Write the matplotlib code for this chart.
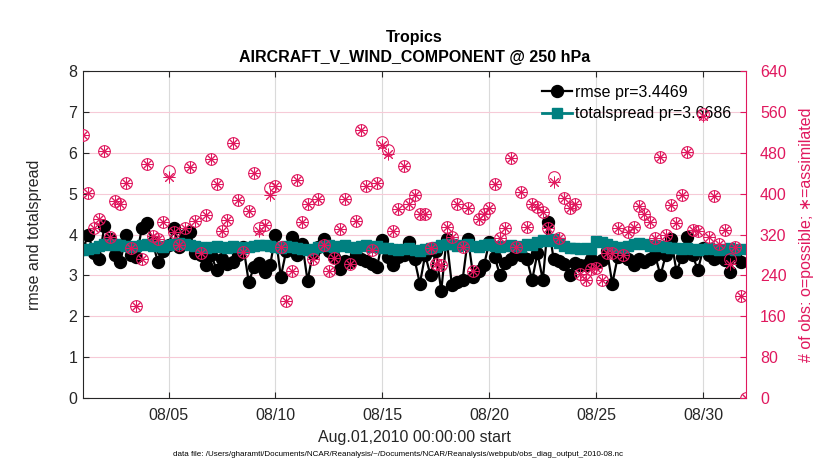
import numpy as np
import pandas as pd
import matplotlib
matplotlib.use("Agg")
import matplotlib.pyplot as plt
import matplotlib.dates as mdates

plt.rcParams['font.family'] = ['Liberation Sans', 'DejaVu Sans']

# 6-hourly analysis times, Aug 1 00Z .. Sep 1 00Z
times = pd.date_range('2010-08-01 00:00', periods=125, freq='6h')

rmse = [3.65, 4.00, 3.55, 3.40, 4.20, 3.90, 3.50, 3.33, 3.98, 3.50,
        3.45, 4.15, 4.27, 3.82, 3.33, 3.60, 3.75, 4.15, 3.70, 3.98,
        4.06, 3.54, 3.50, 3.25, 3.50, 3.13, 3.41, 3.29, 3.33, 3.50,
        3.70, 2.84, 3.21, 3.30, 3.09, 3.25, 3.98, 2.97, 3.60, 3.94,
        3.50, 3.78, 2.87, 3.55, 3.70, 3.90, 3.60, 3.45, 3.17, 3.35,
        3.33, 3.50, 3.41, 3.35, 3.29, 3.21, 3.86, 3.45, 3.25, 3.45,
        3.50, 3.82, 3.40, 2.80, 3.50, 3.00, 3.60, 2.62, 3.90, 2.76,
        2.84, 2.90, 3.90, 2.97, 3.10, 3.25, 3.82, 3.45, 3.00, 3.30,
        3.41, 3.58, 3.50, 3.41, 2.89, 3.55, 2.89, 4.31, 3.41, 3.35,
        3.29, 3.00, 3.30, 3.25, 3.25, 3.41, 3.30, 3.37, 3.60, 2.80,
        3.45, 3.50, 3.40, 3.25, 3.41, 3.33, 3.41, 3.50, 3.00, 3.50,
        3.90, 3.09, 3.45, 3.94, 3.50, 3.13, 3.66, 3.50, 3.41, 3.45,
        3.37, 3.09, 3.50, 3.33, np.nan]

totalspread = [3.62, 3.64, 3.68, 3.72, 3.76, 3.74, 3.78, 3.75, 3.72, 3.70,
               3.72, 3.74, 3.76, 3.73, 3.72, 3.70, 3.74, 3.78, 3.80, 3.78,
               3.75, 3.72, 3.70, 3.68, 3.70, 3.72, 3.70, 3.68, 3.72, 3.70,
               3.68, 3.70, 3.72, 3.75, 3.74, 3.72, 3.70, 3.68, 3.72, 3.70,
               3.66, 3.64, 3.62, 3.65, 3.70, 3.72, 3.74, 3.70, 3.72, 3.74,
               3.70, 3.68, 3.72, 3.74, 3.70, 3.72, 3.68, 3.66, 3.65, 3.62,
               3.64, 3.66, 3.62, 3.60, 3.64, 3.66, 3.70, 3.74, 3.78, 3.76,
               3.72, 3.74, 3.76, 3.72, 3.70, 3.74, 3.76, 3.72, 3.70, 3.72,
               3.74, 3.72, 3.70, 3.76, 3.74, 3.82, 3.86, 3.84, 3.88, 3.80,
               3.72, 3.68, 3.66, 3.64, 3.66, 3.65, 3.84, 3.82, 3.78, 3.72,
               3.70, 3.68, 3.72, 3.78, 3.80, 3.76, 3.72, 3.74, 3.72, 3.70,
               3.68, 3.66, 3.64, 3.66, 3.64, 3.62, 3.64, 3.66, 3.64, 3.62,
               3.64, 3.66, 3.62, 3.64, np.nan]

nposs = [515, 401, 332, 350, 484, 315, 385, 380, 421, 293,
         181, 273, 457, 317, 311, 345, 445, 325, 299, 332,
         452, 346, 283, 358, 468, 419, 326, 348, 499, 388,
         286, 365, 441, 333, 338, 410, 415, 296, 190, 248,
         426, 345, 380, 273, 389, 300, 248, 275, 330, 390,
         263, 346, 525, 414, 289, 421, 501, 486, 327, 369,
         453, 380, 397, 361, 361, 294, 263, 260, 335, 315,
         380, 296, 372, 248, 351, 361, 371, 418, 313, 332,
         469, 296, 404, 334, 379, 374, 364, 333, 432, 313,
         391, 372, 379, 242, 231, 252, 255, 231, 283, 284,
         332, 280, 325, 334, 376, 361, 345, 313, 471, 319,
         377, 343, 397, 481, 328, 326, 556, 315, 395, 302,
         328, 272, 296, 200, 0]

nused = [515, 401, 332, 350, 484, 315, 385, 380, 421, 293,
         181, 273, 457, 317, 311, 345, 432, 325, 299, 332,
         452, 346, 283, 358, 468, 419, 326, 348, 499, 388,
         286, 365, 441, 326, 338, 397, 415, 296, 190, 248,
         426, 345, 380, 273, 389, 300, 248, 275, 330, 390,
         263, 346, 525, 414, 289, 421, 494, 478, 327, 369,
         453, 380, 397, 361, 361, 294, 263, 260, 335, 315,
         380, 296, 372, 248, 351, 361, 371, 418, 313, 332,
         469, 296, 404, 334, 379, 374, 364, 333, 423, 313,
         391, 372, 379, 242, 231, 252, 255, 231, 283, 284,
         332, 280, 325, 334, 376, 361, 345, 313, 471, 319,
         377, 343, 397, 481, 328, 326, 552, 315, 395, 302,
         328, 263, 296, 200, 0]

xtick_days = ['2010-08-05', '2010-08-10', '2010-08-15', '2010-08-20', '2010-08-25', '2010-08-30']

crimson = '#E0185E'
teal = '#008080'
dark = '#262626'

fig = plt.figure(figsize=(8.3, 4.7), dpi=100)
ax = fig.add_axes([0.1, 0.1525, 0.7988, 0.697])
ax2 = ax.twinx()

l1, = ax.plot(times, rmse, '-o', color='black', lw=1.6, ms=8.6, mfc='black', mec='black',
              label='rmse pr=3.4469')
l2, = ax.plot(times, totalspread, '-s', color=teal, lw=2, ms=7.8, mfc=teal, mec=teal,
              label='totalspread pr=3.6686')

ax2.plot(times, nposs, 'o', ls='none', ms=8.4, mfc='none', mec=crimson, mew=0.8)
ax2.plot(times, nused, marker=(8, 2, 0), ls='none', ms=8.4, mec=crimson, mew=0.7)

ax.set_xlim(times[0], times[-1])
ax.set_ylim(0, 8)
ax.set_yticks(range(0, 9))
ax2.set_ylim(0, 640)
ax2.set_yticks(range(0, 641, 80))

ax.set_xticks(pd.to_datetime(xtick_days))
ax.xaxis.set_major_formatter(mdates.DateFormatter('%m/%d'))

ax.set_axisbelow(True)
ax.grid(axis='x', color='#DADADA', lw=0.8)
ax.grid(axis='y', color='#F6CAD7', lw=0.8)

ax.tick_params(axis='both', direction='in', length=4.5, width=0.8, colors=dark,
               labelsize=11.5, top=True, right=False)
ax.tick_params(axis='x', pad=7)
ax.tick_params(axis='y', pad=4)
ax2.tick_params(axis='y', direction='in', length=4.5, width=0.8, colors=crimson,
                labelsize=11.5, pad=10)

for s in ['left', 'bottom', 'top']:
    ax.spines[s].set_color(dark)
    ax.spines[s].set_linewidth(0.8)
ax.spines['right'].set_visible(False)
ax2.spines['left'].set_visible(False)
ax2.spines['top'].set_visible(False)
ax2.spines['bottom'].set_visible(False)
ax2.spines['right'].set_color(crimson)
ax2.spines['right'].set_linewidth(0.8)

ax.set_title('Tropics\nAIRCRAFT_V_WIND_COMPONENT @ 250 hPa', fontsize=11.5,
             fontweight='bold', pad=6, linespacing=1.45)
ax.set_ylabel('rmse and totalspread', fontsize=11.5, color=dark, labelpad=19)
ax2.set_ylabel('# of obs: o=possible; \u2217=assimilated', fontsize=11.5, color=crimson,
               labelpad=9)
ax.set_xlabel('Aug.01,2010 00:00:00 start', fontsize=11.5, color=dark, labelpad=5)

ax.legend(handles=[l1, l2], loc='upper left', bbox_to_anchor=(0.6527, 0.819),
          bbox_transform=fig.transFigure, frameon=False, fontsize=11.5,
          handlelength=1.9, handletextpad=0.2, borderpad=0, borderaxespad=0,
          labelspacing=0.4)

fig.text(0.479, 0.032,
         'data file: /Users/gharamti/Documents/NCAR/Reanalysis/~/Documents/NCAR/Reanalysis/webpub/obs_diag_output_2010-08.nc',
         fontsize=5.8, ha='center', va='center', color='black')

fig.savefig('out.png', dpi=100)
